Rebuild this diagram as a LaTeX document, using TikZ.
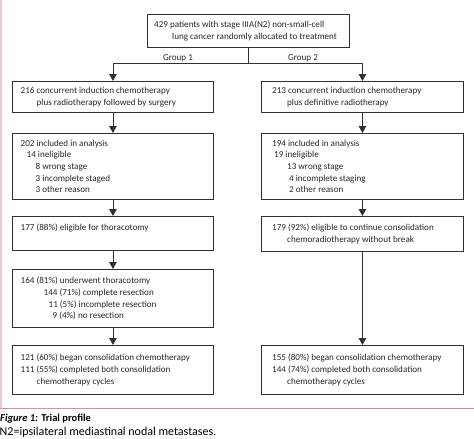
\documentclass[tikz,border=0pt]{standalone}
\usepackage{fontspec}
\setmainfont{Carlito}
\usetikzlibrary{arrows.meta}
\definecolor{boxline}{HTML}{303030}
\definecolor{pinkv}{HTML}{F0C8DC}
\definecolor{pinkh}{HTML}{D88CAC}
\tikzset{
  box/.style={draw=boxline, line width=0.9pt, inner sep=0pt, anchor=north west},
  txt/.style={anchor=west, align=left, inner sep=0pt, font=\fontsize{9.1}{11.7}\selectfont, text=black!85},
  arr/.style={draw=boxline, line width=0.9pt, -{Triangle[width=7.5pt,length=7pt]}},
  con/.style={draw=boxline, line width=0.9pt},
  grp/.style={font=\fontsize{9.1}{11.7}\selectfont, text=black!85, inner sep=0pt}
}
\begin{document}
\begin{tikzpicture}[x=1pt,y=-1pt]
\useasboundingbox (0,0) rectangle (474,439);
% frame lines
\draw[pinkv, line width=1.5pt] (1,0) -- (1,408);
\draw[pinkh, line width=1pt] (0,408) -- (474,408);
% boxes
\node[box, minimum width=202pt, minimum height=33pt] (b0) at (147,14) {};
\node[box, minimum width=201pt, minimum height=31pt] (L1) at (12,81) {};
\node[box, minimum width=202pt, minimum height=31pt] (R1) at (261,81) {};
\node[box, minimum width=201pt, minimum height=66pt] (L2) at (12,133) {};
\node[box, minimum width=202pt, minimum height=66pt] (R2) at (261,133) {};
\node[box, minimum width=201pt, minimum height=34pt] (L3) at (12,216) {};
\node[box, minimum width=202pt, minimum height=35pt] (R3) at (261,216) {};
\node[box, minimum width=201pt, minimum height=58pt] (L4) at (12,269) {};
\node[box, minimum width=201pt, minimum height=49pt] (L6) at (12,345) {};
\node[box, minimum width=202pt, minimum height=49pt] (R6) at (261,345) {};
% texts
\node[txt] (tb0) at ([xshift=7pt]b0.west) {429 patients with stage IIIA(N2) non-small-cell\\\hspace*{18pt}lung cancer randomly allocated to treatment};
\node[txt] (tL1) at ([xshift=8.5pt]L1.west) {216 concurrent induction chemotherapy\\\hspace*{16pt}plus radiotherapy followed by surgery};
\node[txt] (tR1) at ([xshift=11pt]R1.west) {213 concurrent induction chemotherapy\\\hspace*{15pt}plus definitive radiotherapy};
\node[txt] (tL2) at ([xshift=8.5pt]L2.west) {202 included in analysis\\\hspace*{6pt}14 ineligible\\\hspace*{15pt}8 wrong stage\\\hspace*{15pt}3 incomplete staged\\\hspace*{15pt}3 other reason};
\node[txt] (tR2) at ([xshift=11pt]R2.west) {194 included in analysis\\\hspace*{2pt}19 ineligible\\\hspace*{15pt}13 wrong stage\\\hspace*{17pt}4 incomplete staging\\\hspace*{17pt}2 other reason};
\node[txt] (tL3) at ([xshift=8.5pt]L3.west) {177 (88\%) eligible for thoracotomy\\\mbox{}};
\node[txt] (tR3) at ([xshift=11pt]R3.west) {179 (92\%) eligible to continue consolidation\\\hspace*{15pt}chemoradiotherapy without break};
\node[txt] (tL4) at ([xshift=8.5pt]L4.west) {164 (81\%) underwent thoracotomy\\\hspace*{23pt}144 (71\%) complete resection\\\hspace*{28pt}11 (5\%) incomplete resection\\\hspace*{32pt}9 (4\%) no resection};
\node[txt] (tL6) at ([xshift=8.5pt]L6.west) {121 (60\%) began consolidation chemotherapy\\111 (55\%) completed both consolidation\\\hspace*{16pt}chemotherapy cycles};
\node[txt] (tR6) at ([xshift=11pt]R6.west) {155 (80\%) began consolidation chemotherapy\\144 (74\%) completed both consolidation\\\hspace*{15pt}chemotherapy cycles};
% connectors
\draw[con] (b0.south) -- ++(0,16) coordinate (j);
\draw[arr] (j) -| (L1.north);
\draw[arr] (j) -| (R1.north);
\node[grp] (g1) at (178,58) {Group 1};
\node[grp] (g2) at (303,58) {Group 2};
\draw[arr] (L1.south) -- (L2.north);
\draw[arr] (R1.south) -- (R2.north);
\draw[arr] (L2.south) -- (L3.north);
\draw[arr] (R2.south) -- (R3.north);
\draw[arr] (L3.south) -- (L4.north);
\draw[arr] (L4.south) -- (L6.north);
\draw[arr] (R3.south) -- (R6.north);
% caption
\node[anchor=base west, inner sep=0pt, font=\fontsize{10.5}{12}\selectfont] (cap1) at (0,421) {\textbf{\textit{Figure 1:} Trial profile}};
\node[anchor=base west, inner sep=0pt, font=\fontsize{12}{13}\selectfont] (cap2) at (-0.5,435) {N2=ipsilateral mediastinal nodal metastases.};
\end{tikzpicture}
\end{document}
